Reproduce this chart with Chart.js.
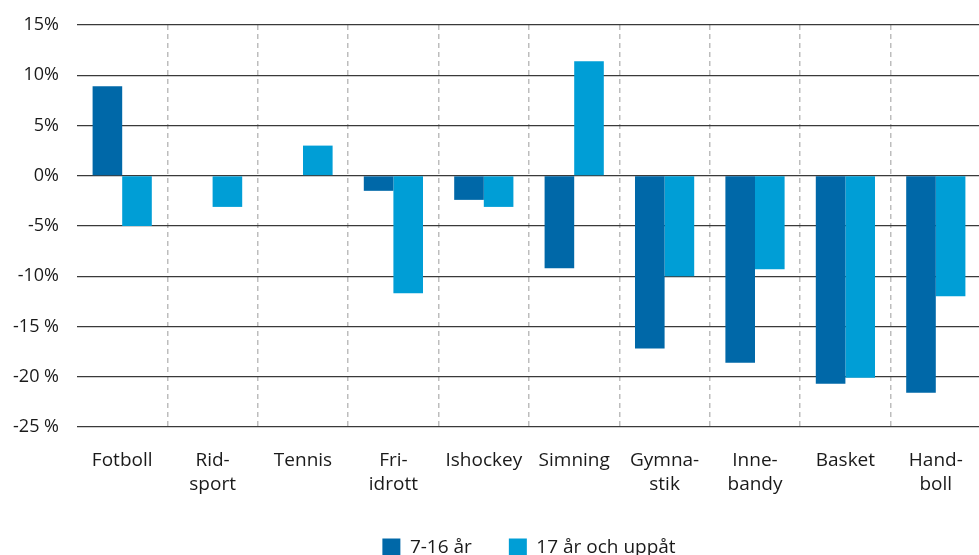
<!DOCTYPE html>
<html>
<head>
<meta charset="utf-8">
<script src="https://cdn.jsdelivr.net/npm/chart.js@4"></script>
<style>
  html, body { margin: 0; padding: 0; background: #fff; overflow: hidden; }
  #wrap { width: 984px; height: 571px; }
  canvas { display: block; }
</style>
</head>
<body>
<div id="wrap"><canvas id="myChart" width="984" height="571"></canvas></div>
<script>
// Kategorier (sporter), radbrytning som i originalet
const sporter = [
    ['Fotboll'], ['Rid-', 'sport'], ['Tennis'], ['Fri-', 'idrott'], ['Ishockey'],
    ['Simning'], ['Gymna-', 'stik'], ['Inne-', 'bandy'], ['Basket'], ['Hand-', 'boll']
];

// Förändring i procent
const unga = [8.9, null, null, -1.5, -2.4, -9.2, -17.2, -18.6, -20.7, -21.6];
const vuxna = [-5.0, -3.1, 3.0, -11.7, -3.1, 11.4, -10.0, -9.3, -20.1, -12.0];

const serieNamn = ['7-16 år', '17 år och uppåt'];
const yMin = -25, yMax = 15, ySteg = 5;

const familj = '"Open Sans", Lato, sans-serif';
const textfarg = '#1a1a1a';

const config = {
    type: 'bar',
    data: {
        labels: sporter,
        datasets: [
            {
                label: serieNamn[0],
                data: unga,
                backgroundColor: '#0068a8',
                categoryPercentage: 0.655,
                barPercentage: 1.0
            },
            {
                label: serieNamn[1],
                data: vuxna,
                backgroundColor: '#009ed6',
                categoryPercentage: 0.655,
                barPercentage: 1.0
            }
        ]
    },
    options: {
        responsive: false,
        animation: false,
        layout: { padding: { top: 25, right: 3, bottom: 4, left: 0 } },
        plugins: {
            tooltip: { enabled: false },
            legend: {
                position: 'bottom',
                fullSize: false, // centreras över själva diagramytan
                labels: {
                    boxWidth: 18,
                    boxHeight: 18,
                    padding: 37,
                    color: textfarg,
                    font: { family: familj, size: 19 }
                }
            }
        },
        scales: {
            x: {
                afterFit: s => { s.height = 74; },
                border: { display: false, dash: [5, 4] },
                grid: {
                    offset: true,
                    drawTicks: false,
                    lineWidth: 1.5,
                    color: ctx => (ctx.index === 0 || ctx.index === sporter.length) ? 'rgba(0,0,0,0)' : '#bdbdbd'
                },
                ticks: {
                    padding: 21,
                    color: textfarg,
                    font: { family: familj, size: 19, lineHeight: 1.3 },
                    maxRotation: 0,
                    autoSkip: false
                }
            },
            y: {
                min: yMin,
                max: yMax,
                afterFit: s => { s.width = 77; s.paddingTop = 0; s.paddingBottom = 0; },
                border: { display: false },
                grid: {
                    drawTicks: false,
                    color: '#3a3a3a',
                    lineWidth: 1.2
                },
                ticks: {
                    stepSize: ySteg,
                    padding: 18,
                    color: textfarg,
                    font: { family: familj, size: 18 },
                    callback: v => v <= -15 ? v + ' %' : v + '%'
                }
            }
        }
    }
};

const ctx = document.querySelector('#myChart').getContext('2d');
new Chart(ctx, config);
</script>
</body>
</html>
